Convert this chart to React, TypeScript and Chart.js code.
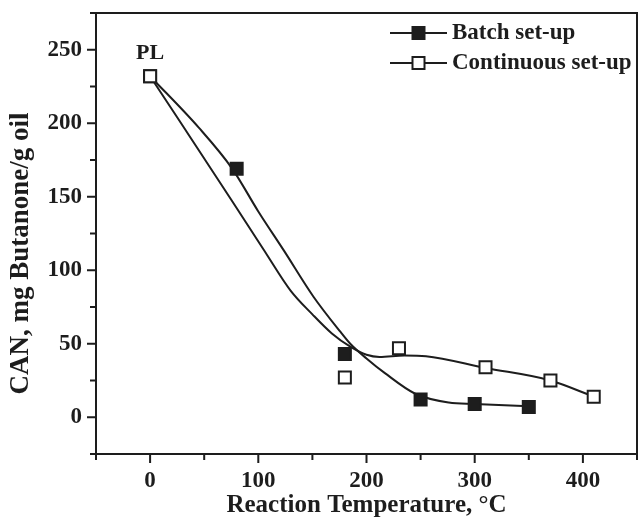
import React, { useEffect, useRef } from 'react';
import { Chart, registerables } from 'chart.js';

Chart.register(...registerables);

// ---- data ----
const seriesNames = ['Batch set-up', 'Continuous set-up'];

const batchTemp = [0, 80, 180, 250, 300, 350];
const batchCAN = [232, 169, 43, 12, 9, 7];

const contTemp = [0, 180, 230, 310, 370, 410];
const contCAN = [232, 27, 47, 34, 25, 14];

// points read along the drawn (fitted) curves
const batchFitTemp = [0, 45, 76, 100, 124, 151, 176, 185, 200, 217, 245, 276, 300, 350];
const batchFitCAN = [232, 197, 169, 140, 113, 82, 58, 50, 40, 30, 16, 10, 9, 7.5];

const contFitTemp = [0, 75, 105, 130, 150, 168, 185, 200, 212, 235, 255, 310, 370, 410];
const contFitCAN = [232, 148, 114, 86, 70, 57, 48, 42.5, 41, 42, 41.5, 33.5, 25, 14];

const xTickLabels = [0, 100, 200, 300, 400];
const yTickLabels = [0, 50, 100, 150, 200, 250];

const pointLabel = 'PL';
const xTitle = 'Reaction Temperature, °C';
const yTitle = 'CAN, mg Butanone/g oil';

// ---- styling ----
const INK = '#1d1d1d';
const FONT = "'Liberation Serif', 'Times New Roman', serif";

const decorPlugin = {
  id: 'decor',
  afterDraw(chart: any) {
    const { ctx, chartArea: a, scales } = chart;
    const xs = scales.x;
    const ys = scales.y;
    ctx.save();
    ctx.strokeStyle = INK;
    ctx.lineWidth = 2;
    // tick marks (major / minor)
    ctx.beginPath();
    xs.ticks.forEach((t: any) => {
      const px = xs.getPixelForValue(t.value);
      const len = xTickLabels.includes(t.value) ? 9 : 6;
      ctx.moveTo(px, a.bottom);
      ctx.lineTo(px, a.bottom + len);
    });
    ys.ticks.forEach((t: any) => {
      const py = ys.getPixelForValue(t.value);
      const len = yTickLabels.includes(t.value) ? 9 : 6;
      ctx.moveTo(a.left, py);
      ctx.lineTo(a.left - len, py);
    });
    ctx.stroke();
    // frame
    ctx.strokeRect(a.left, a.top, a.right - a.left, a.bottom - a.top);

    // y title
    ctx.fillStyle = INK;
    ctx.font = `bold 27px ${FONT}`;
    ctx.save();
    ctx.translate(21, (a.top + a.bottom) / 2 + 20);
    ctx.rotate(-Math.PI / 2);
    ctx.textAlign = 'center';
    ctx.textBaseline = 'middle';
    ctx.fillText(yTitle, 0, 0);
    ctx.restore();

    // PL label above first point
    ctx.font = `bold 22px ${FONT}`;
    ctx.textAlign = 'center';
    ctx.textBaseline = 'middle';
    ctx.fillText(pointLabel, xs.getPixelForValue(contTemp[0]), ys.getPixelForValue(contCAN[0]) - 23);

    // legend
    const items = [
      { label: seriesNames[0], fill: INK },
      { label: seriesNames[1], fill: '#ffffff' },
    ];
    ctx.font = `bold 23px ${FONT}`;
    ctx.textAlign = 'left';
    items.forEach((it, i) => {
      const cy = 33 + i * 30;
      ctx.beginPath();
      ctx.moveTo(390, cy);
      ctx.lineTo(447, cy);
      ctx.lineWidth = 2;
      ctx.stroke();
      ctx.fillStyle = it.fill;
      ctx.fillRect(412.5, cy - 6, 12, 12);
      ctx.strokeRect(412.5, cy - 6, 12, 12);
      ctx.fillStyle = INK;
      ctx.fillText(it.label, 452, cy);
    });
    ctx.restore();
  },
};

const zeroPad = (s: any) => {
  s.paddingTop = 0;
  s.paddingBottom = 0;
  s.paddingLeft = 0;
  s.paddingRight = 0;
};

export default function App() {
  const ref = useRef<HTMLCanvasElement | null>(null);

  useEffect(() => {
    if (!ref.current) return;
    const toXY = (xs: number[], ys: number[]) => xs.map((x, i) => ({ x, y: ys[i] }));
    const tickFont = { family: FONT, size: 23, weight: 'bold' as const };
    const chart = new Chart(ref.current, {
      type: 'line',
      data: {
        datasets: [
          {
            label: seriesNames[1],
            data: toXY(contTemp, contCAN),
            showLine: false,
            pointStyle: 'rect',
            pointRadius: 8.5,
            pointBorderWidth: 2,
            pointBackgroundColor: '#ffffff',
            pointBorderColor: INK,
            borderColor: INK,
          },
          {
            label: seriesNames[0],
            data: toXY(batchTemp, batchCAN),
            showLine: false,
            pointStyle: 'rect',
            pointRadius: 8.5,
            pointBorderWidth: 2,
            pointBackgroundColor: INK,
            pointBorderColor: INK,
            borderColor: INK,
          },
          {
            label: seriesNames[0] + ' fit',
            data: toXY(batchFitTemp, batchFitCAN),
            borderColor: INK,
            borderWidth: 2,
            pointRadius: 0,
            cubicInterpolationMode: 'monotone',
            fill: false,
          },
          {
            label: seriesNames[1] + ' fit',
            data: toXY(contFitTemp, contFitCAN),
            borderColor: INK,
            borderWidth: 2,
            pointRadius: 0,
            cubicInterpolationMode: 'monotone',
            fill: false,
          },
        ],
      },
      options: {
        responsive: false,
        animation: false,
        devicePixelRatio: 1,
        layout: { autoPadding: false, padding: { top: 13, right: 2, left: 0, bottom: 0 } },
        plugins: { legend: { display: false }, tooltip: { enabled: false } },
        scales: {
          x: {
            type: 'linear',
            min: -50,
            max: 450,
            ticks: {
              stepSize: 50,
              autoSkip: false,
              maxRotation: 0,
              padding: 4,
              color: INK,
              font: tickFont,
              callback: (v: any) => (xTickLabels.includes(Number(v)) ? String(v) : ''),
            },
            grid: { display: true, drawOnChartArea: false, drawTicks: true, tickLength: 9, color: 'rgba(0,0,0,0)' },
            border: { display: false },
            title: {
              display: true,
              text: xTitle,
              color: INK,
              font: { family: FONT, size: 25, weight: 'bold' },
              padding: { top: 0, bottom: 2 },
            },
            afterFit: (s: any) => {
              s.height = 69;
              zeroPad(s);
            },
          },
          y: {
            type: 'linear',
            min: -25,
            max: 275,
            ticks: {
              stepSize: 25,
              autoSkip: false,
              padding: 5,
              color: INK,
              font: tickFont,
              callback: (v: any) => (yTickLabels.includes(Number(v)) ? String(v) : ''),
            },
            grid: { display: true, drawOnChartArea: false, drawTicks: true, tickLength: 9, color: 'rgba(0,0,0,0)' },
            border: { display: false },
            afterFit: (s: any) => {
              s.width = 96;
              zeroPad(s);
            },
          },
        },
      },
      plugins: [decorPlugin],
    } as any);
    return () => chart.destroy();
  }, []);

  return (
    <div style={{ position: 'fixed', left: 0, top: 0, width: 639, height: 523, background: '#fff' }}>
      <canvas ref={ref} width={639} height={523} style={{ display: 'block', width: 639, height: 523 }} />
    </div>
  );
}
